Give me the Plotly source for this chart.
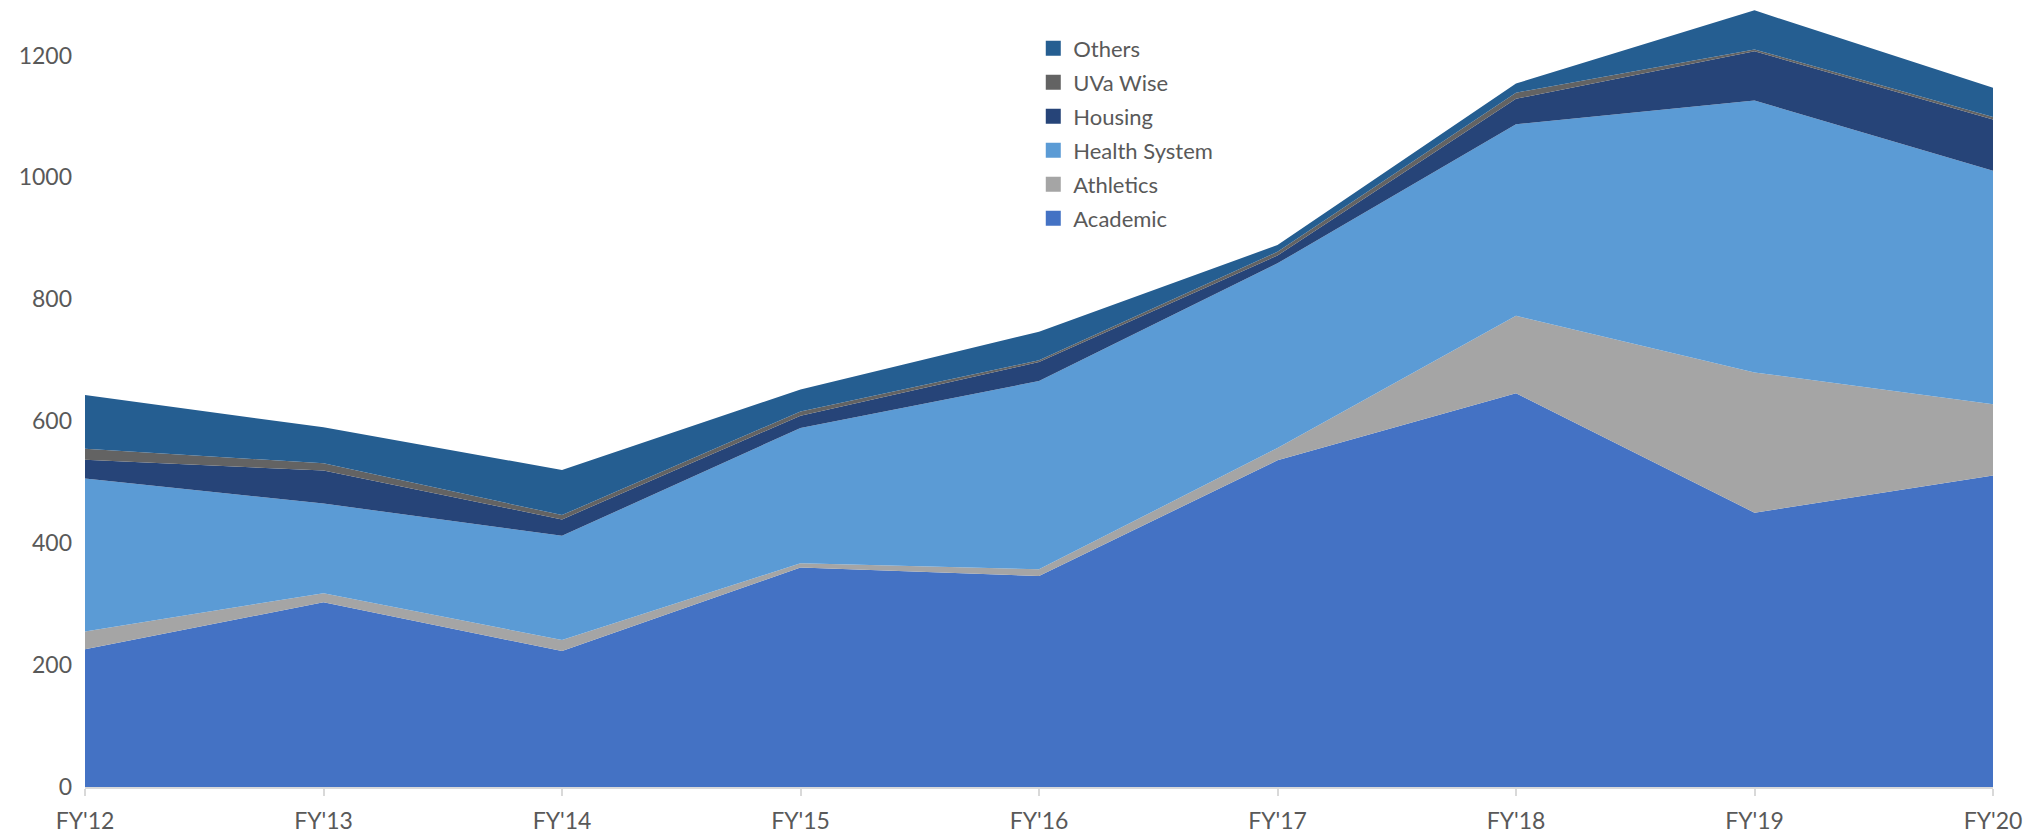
import plotly.graph_objects as go

categories = ["FY'12", "FY'13", "FY'14", "FY'15", "FY'16", "FY'17", "FY'18", "FY'19", "FY'20"]
academic = [226, 303, 223, 360, 346, 536, 646, 450, 511]
athletics = [29, 15, 18, 7, 11, 20, 127, 230, 117]
health_system = [251, 147, 171, 222, 309, 303, 314, 446, 383]
housing = [31, 54, 27, 20, 31, 13, 42, 81, 84]
uva_wise = [18, 12, 7, 7, 3, 6, 10, 3, 4]
others = [88, 59, 74, 36, 47, 11, 15, 64, 48]
y_ticks = [0, 200, 400, 600, 800, 1000, 1200]

series = [
    ("Academic", academic, "#4472C4"),
    ("Athletics", athletics, "#A5A5A5"),
    ("Health System", health_system, "#5B9BD5"),
    ("Housing", housing, "#264478"),
    ("UVa Wise", uva_wise, "#636363"),
    ("Others", others, "#255E91"),
]

fig = go.Figure()
for name, vals, color in series:
    fig.add_trace(go.Scatter(
        x=categories, y=vals, name=name, stackgroup="one", mode="none",
        fillcolor=color, showlegend=False, hoverinfo="x+y+name",
    ))

# legend entries (top to bottom: Others ... Academic)
for name, vals, color in reversed(series):
    fig.add_trace(go.Scatter(
        x=[None], y=[None], name=name, mode="markers", legendgroup=name,
        marker=dict(symbol="square", size=15, color=color),
    ))

font_family = "Lato, Carlito, 'Open Sans', sans-serif"
fig.update_layout(
    width=2042, height=834,
    margin=dict(l=85, r=49, t=0, b=44),
    paper_bgcolor="white", plot_bgcolor="white",
    font=dict(family=font_family, size=22, color="#595959"),
    showlegend=True,
    legend=dict(
        x=0.497, y=0.965, xanchor="left", yanchor="top",
        traceorder="grouped", tracegroupgap=2.4,
        font=dict(size=22, color="#595959"),
        bgcolor="rgba(0,0,0,0)", itemwidth=30,
    ),
    xaxis=dict(
        type="category", range=[0, len(categories) - 1],
        showgrid=False, showline=True, linecolor="#D9D9D9", linewidth=1.5,
        ticks="outside", ticklen=7, tickcolor="#D9D9D9", tickwidth=1.5,
        ticklabelstandoff=6, tickfont=dict(size=23, color="#595959"),
        zeroline=False,
    ),
    yaxis=dict(
        range=[0, 1291], tickvals=y_ticks, showgrid=False, zeroline=False,
        showline=False, ticks="", ticklabelstandoff=12,
        tickfont=dict(size=23, color="#595959"),
    ),
)

fig.write_html("out.html")
